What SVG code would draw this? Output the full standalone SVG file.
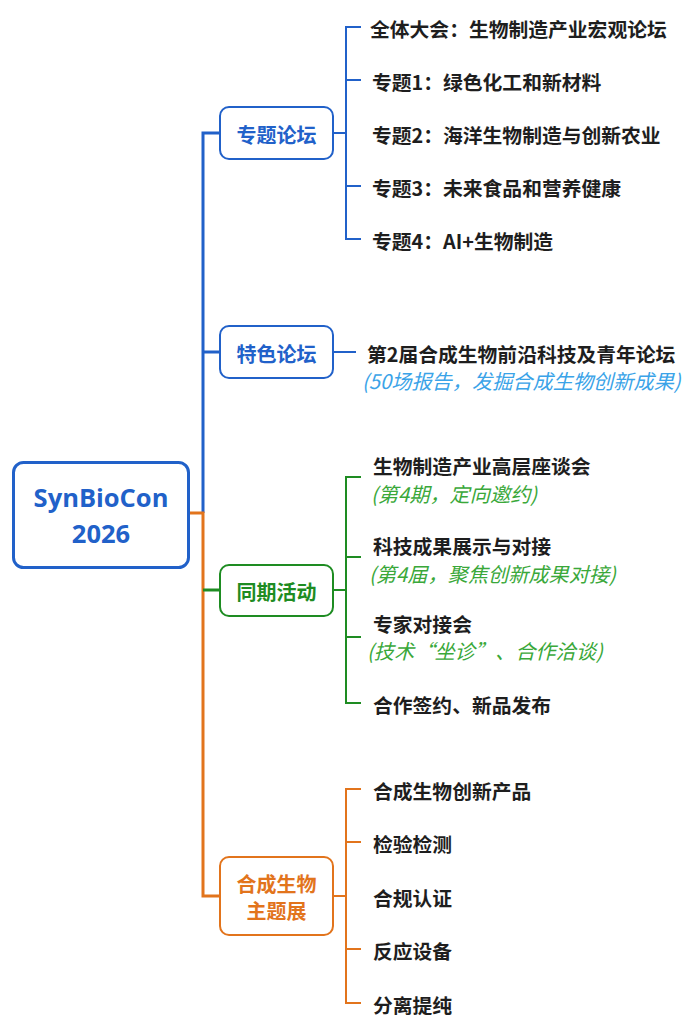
<svg xmlns="http://www.w3.org/2000/svg" width="688" height="1029" viewBox="0 0 688 1029">
<style>
text{font-family:"Noto Sans CJK SC","Noto Sans",sans-serif;dominant-baseline:central}
.leaf{font-size:19.8px;font-weight:bold;fill:#1e1e1e}
.sub{font-size:20.2px;font-style:italic}
.br{font-size:20px;font-weight:bold;text-anchor:middle}
.rt{font-family:"Open Sans","Noto Sans",sans-serif;font-size:25.5px;font-weight:bold;fill:#2161c9;text-anchor:middle}
.box{fill:#fff;stroke-width:2}
.ln{fill:none;stroke-width:2}
.tr{fill:none;stroke-width:3}
</style>
<g id="connectors">
<path class="tr" stroke="#2161c9" d="M220,133 H203 V513"/>
<path class="tr" stroke="#2161c9" d="M203,352 H220"/>
<path class="tr" stroke="#e2741c" d="M189,513 H203 V896 H220"/>
<path class="tr" stroke="#1e8c22" d="M203,590 H220"/>
<path class="ln" stroke="#2161c9" d="M333,133 H346 M361,27 H346 V239 H361 M346,80 H361 M346,186 H361"/>
<path class="ln" stroke="#2161c9" d="M333,352 H356"/>
<path class="ln" stroke="#1e8c22" d="M333,590 H346 M361,477 H346 V703 H361 M346,557 H361 M346,637 H361"/>
<path class="ln" stroke="#e2741c" d="M333,896 H346 M361,789 H346 V1003 H361 M346,842 H361 M346,949 H361"/>
</g>
<g id="root">
<rect x="13.5" y="462.5" width="175" height="105" rx="10" fill="#fff" stroke="#2161c9" stroke-width="3"/>
<text class="rt" x="101" y="497">SynBioCon</text>
<text class="rt" x="101" y="533">2026</text>
</g>
<g id="b1">
<rect class="box" x="220" y="107" width="113" height="52" rx="9" stroke="#2161c9"/>
<text class="br" x="276.5" y="134" fill="#2161c9">专题论坛</text>
</g>
<g id="b2">
<rect class="box" x="220" y="326" width="113" height="52" rx="9" stroke="#2161c9"/>
<text class="br" x="276.5" y="353" fill="#2161c9">特色论坛</text>
</g>
<g id="b3">
<rect class="box" x="220" y="565" width="113" height="51" rx="9" stroke="#1e8c22"/>
<text class="br" x="276.5" y="591" fill="#1e8c22">同期活动</text>
</g>
<g id="b4">
<rect class="box" x="220" y="857" width="113" height="78" rx="9" stroke="#e2741c"/>
<text class="br" x="276.5" y="883" fill="#e2741c">合成生物</text>
<text class="br" x="276.5" y="910" fill="#e2741c">主题展</text>
</g>
<g id="l1"><text class="leaf" x="370" y="28">全体大会：生物制造产业宏观论坛</text></g>
<g id="l2"><text class="leaf" x="372" y="81">专题1：绿色化工和新材料</text></g>
<g id="l3"><text class="leaf" x="372" y="134">专题2：海洋生物制造与创新农业</text></g>
<g id="l4"><text class="leaf" x="372" y="187">专题3：未来食品和营养健康</text></g>
<g id="l5"><text class="leaf" x="372" y="240">专题4：AI+生物制造</text></g>
<g id="l6">
<text class="leaf" x="367" y="353">第2届合成生物前沿科技及青年论坛</text>
<text class="sub" x="362" y="380" fill="#3aa3e8">(50场报告，发掘合成生物创新成果)</text>
</g>
<g id="l7">
<text class="leaf" x="373" y="465">生物制造产业高层座谈会</text>
<text class="sub" x="371" y="493" fill="#3aa83a">(第4期，定向邀约)</text>
</g>
<g id="l8">
<text class="leaf" x="373" y="545">科技成果展示与对接</text>
<text class="sub" x="369" y="573" fill="#3aa83a">(第4届，聚焦创新成果对接)</text>
</g>
<g id="l9">
<text class="leaf" x="373" y="623">专家对接会</text>
<text class="sub" x="367" y="650" fill="#3aa83a">(技术“坐诊”、合作洽谈)</text>
</g>
<g id="l10"><text class="leaf" x="373" y="704">合作签约、新品发布</text></g>
<g id="l11"><text class="leaf" x="373" y="790">合成生物创新产品</text></g>
<g id="l12"><text class="leaf" x="373" y="843">检验检测</text></g>
<g id="l13"><text class="leaf" x="373" y="897">合规认证</text></g>
<g id="l14"><text class="leaf" x="373" y="950">反应设备</text></g>
<g id="l15"><text class="leaf" x="373" y="1004">分离提纯</text></g>
</svg>
